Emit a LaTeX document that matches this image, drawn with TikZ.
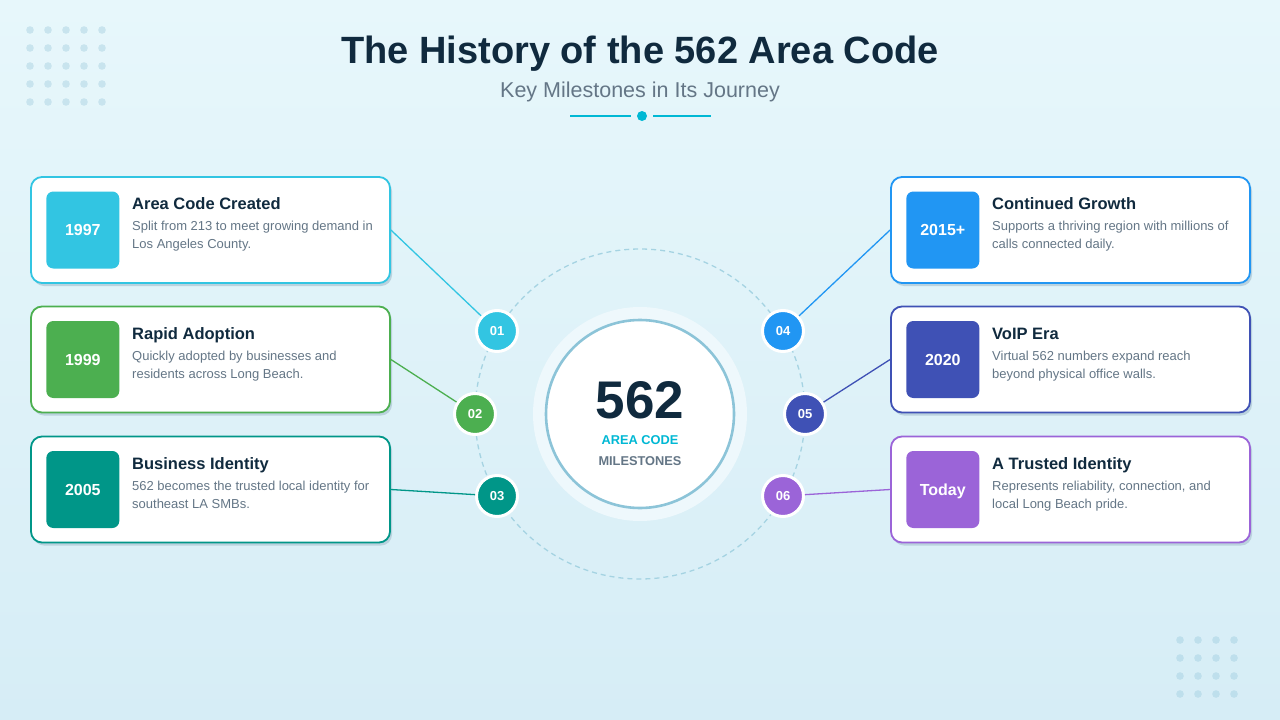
\documentclass[tikz,border=0pt]{standalone}
\usepackage{fontspec}
\setmainfont{Liberation Sans}
\usepackage{tikz}
\usetikzlibrary{positioning,calc,shadows}
\definecolor{ink}{RGB}{16,42,62}
\definecolor{slate}{RGB}{100,118,134}
\definecolor{accent}{RGB}{0,184,212}
\definecolor{bgtop}{RGB}{231,247,251}
\definecolor{bgbot}{RGB}{214,237,246}
\definecolor{dotc}{RGB}{200,228,238}
\definecolor{dotd}{RGB}{190,223,236}
\definecolor{ringc}{RGB}{165,211,226}
\definecolor{hubline}{RGB}{140,196,216}
\definecolor{hubglow}{RGB}{238,248,252}
\definecolor{cardshade}{RGB}{186,210,222}
\definecolor{cA}{RGB}{50,197,226}
\definecolor{cB}{RGB}{76,175,80}
\definecolor{cC}{RGB}{0,150,136}
\definecolor{cD}{RGB}{33,150,243}
\definecolor{cE}{RGB}{63,81,181}
\definecolor{cF}{RGB}{155,100,216}

\begin{document}
\begin{tikzpicture}[x=1pt, y=-1pt,
  card/.style={draw=#1,line width=1.8pt,rounded corners=11pt,fill=white,minimum width=359pt,minimum height=106pt,
    drop shadow={shadow xshift=2pt,shadow yshift=-3pt,fill=cardshade,opacity=1}},
  yearbox/.style={fill=#1,rounded corners=7pt,minimum width=73pt,minimum height=77pt,inner sep=0pt,
    text height=11.5pt,text depth=0pt,text=white,font=\fontsize{16}{19}\selectfont\bfseries},
  head/.style={anchor=base west,inner sep=0pt,text=ink,font=\fontsize{16.5}{20}\selectfont\bfseries},
  desc/.style={anchor=north west,inner sep=0pt,text=slate,align=left,font=\fontsize{13}{18}\selectfont},
  badge/.style={circle,fill=#1,draw=white,line width=3pt,minimum size=41pt,inner sep=0pt,
    text=white,font=\fontsize{13}{15}\selectfont\bfseries},
  link/.style={draw=#1,line width=1.3pt}]

% background
\useasboundingbox (0,0) rectangle (1280,720);
\shade[top color=bgtop,bottom color=bgbot] (0,0) rectangle (1280,720);
\foreach \i in {0,...,4}
  \foreach \j in {0,...,4}
    \fill[dotc] (30+18*\i,30+18*\j) circle (3.8pt);
\foreach \i in {0,...,3}
  \foreach \j in {0,...,3}
    \fill[dotd] (1180+18*\i,640+18*\j) circle (3.8pt);

% title
\node[anchor=base,inner sep=0pt,text=ink,font=\fontsize{38}{41}\selectfont\bfseries] (title) at (640,63) {The History of the 562 Area Code};
\node[anchor=base,inner sep=0pt,text=slate,font=\fontsize{21.5}{24}\selectfont] (subtitle) at (640,97) {Key Milestones in Its Journey};
\node[circle,fill=accent,minimum size=10pt,inner sep=0pt] (orn) at (642,116) {};
\coordinate (ornl) at (570,116);
\coordinate (ornr) at (711,116);
\draw[accent,line width=1.8pt] (ornl) -- ([xshift=-6pt]orn.west);
\draw[accent,line width=1.8pt] ([xshift=6pt]orn.east) -- (ornr);

% hub
\draw[ringc,line width=1.3pt,dash pattern=on 5pt off 4pt] (640,414) circle (165pt);
\node[circle,fill=hubglow,minimum size=214pt,inner sep=0pt] (glow) at (640,414) {};
\node[circle,fill=white,draw=hubline,line width=2.6pt,minimum size=188pt,inner sep=0pt] (hub) at (glow) {};
\node[anchor=base,inner sep=0pt,text=ink,font=\fontsize{53}{56}\selectfont\bfseries] (num) at (640,418) {562};
\node[anchor=base,inner sep=0pt,text=accent,font=\fontsize{12.8}{15}\selectfont\bfseries] (areacode) at (640,444.5) {AREA CODE};
\node[anchor=base,inner sep=0pt,text=slate,font=\fontsize{12.8}{15}\selectfont\bfseries] (miles) at (640,465) {MILESTONES};

% left cards
\node[card=cA] (c1) at (210.5,230) {};
\node[card=cB] (c2) at (210.5,359.5) {};
\node[card=cC] (c3) at (210.5,489.5) {};
\node[yearbox=cA,right=16pt of c1.west] (y1) {1997};
\node[yearbox=cB,right=16pt of c2.west] (y2) {1999};
\node[yearbox=cC,right=16pt of c3.west] (y3) {2005};
\node[head] (h1) at (132,209) {Area Code Created};
\node[head] (h2) at (132,339) {Rapid Adoption};
\node[head] (h3) at (132,469) {Business Identity};
\node[desc] (d1) at (132,220.5) {Split from 213 to meet growing demand in\\Los Angeles County.};
\node[desc] (d2) at (132,350.5) {Quickly adopted by businesses and\\residents across Long Beach.};
\node[desc] (d3) at (132,480.5) {562 becomes the trusted local identity for\\southeast LA SMBs.};

% right cards
\node[card=cD] (c4) at (1070.5,230) {};
\node[card=cE] (c5) at (1070.5,359.5) {};
\node[card=cF] (c6) at (1070.5,489.5) {};
\node[yearbox=cD,right=16pt of c4.west] (y4) {2015+};
\node[yearbox=cE,right=16pt of c5.west] (y5) {2020};
\node[yearbox=cF,right=16pt of c6.west] (y6) {Today};
\node[head] (h4) at (992,209) {Continued Growth};
\node[head] (h5) at (992,339) {VoIP Era};
\node[head] (h6) at (992,469) {A Trusted Identity};
\node[desc] (d4) at (992,220.5) {Supports a thriving region with millions of\\calls connected daily.};
\node[desc] (d5) at (992,350.5) {Virtual 562 numbers expand reach\\beyond physical office walls.};
\node[desc] (d6) at (992,480.5) {Represents reliability, connection, and\\local Long Beach pride.};

% badges
\node[badge=cA] (n1) at (497,331) {01};
\node[badge=cB] (n2) at (475,414) {02};
\node[badge=cC] (n3) at (497,496) {03};
\node[badge=cD] (n4) at (783,331) {04};
\node[badge=cE] (n5) at (805,414) {05};
\node[badge=cF] (n6) at (783,496) {06};

% connectors
\draw[link=cA] (c1.east) -- (n1);
\draw[link=cB] (c2.east) -- (n2);
\draw[link=cC] (c3.east) -- (n3);
\draw[link=cD] (c4.west) -- (n4);
\draw[link=cE] (c5.west) -- (n5);
\draw[link=cF] (c6.west) -- (n6);
\end{tikzpicture}
\end{document}
